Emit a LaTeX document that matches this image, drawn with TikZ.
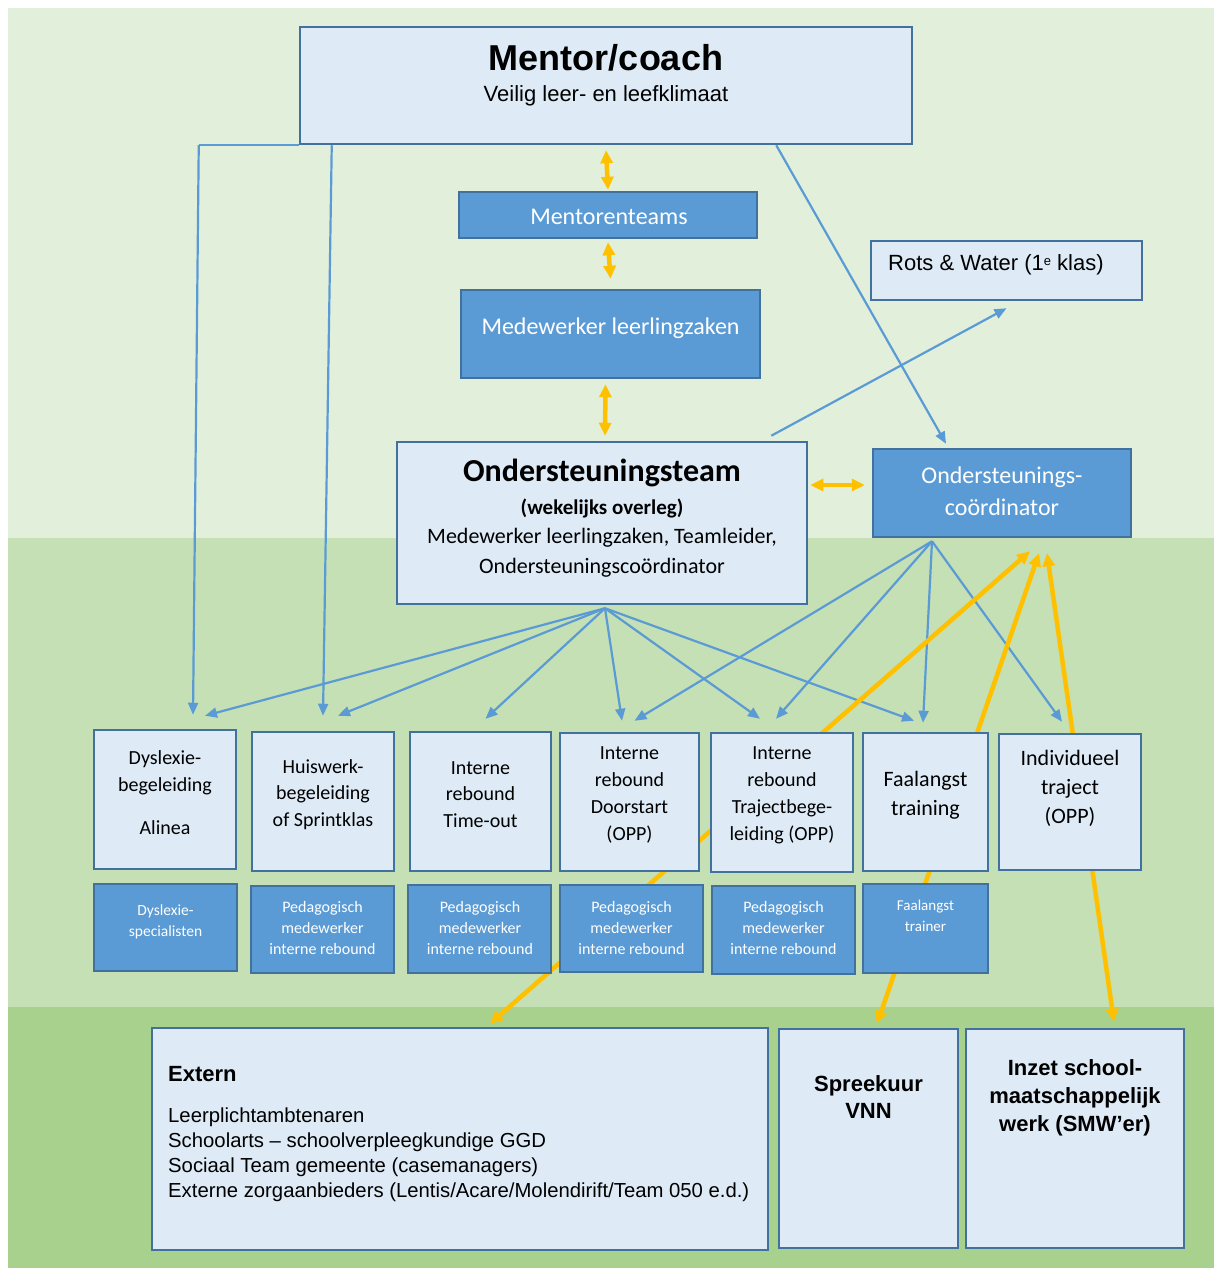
\documentclass[tikz,border=0pt]{standalone}
\usepackage{fontspec}
\setmainfont{Carlito}
\newfontfamily\arial{Liberation Sans}
\usetikzlibrary{arrows.meta}
\pgfdeclarelayer{bg}
\pgfdeclarelayer{lines}
\pgfsetlayers{bg,lines,main}
\definecolor{bgA}{HTML}{E2EFDA}
\definecolor{bgB}{HTML}{C5E0B4}
\definecolor{bgC}{HTML}{A9D18E}
\definecolor{lfill}{HTML}{DEEBF7}
\definecolor{dfill}{HTML}{5B9BD5}
\definecolor{bord}{HTML}{41719C}
\definecolor{barrow}{HTML}{5B9BD5}
\definecolor{yarrow}{HTML}{FFC000}
\begin{document}
\begin{tikzpicture}[x=1pt,y=-1pt,
  lbox/.style={draw=bord,line width=2.5pt,fill=lfill,inner sep=0pt},
  dbox/.style={draw=bord,line width=2.5pt,fill=dfill,inner sep=0pt},
  txt/.style={inner sep=0pt,align=center,text=black,yshift=-2pt},
  wtxt/.style={inner sep=0pt,align=center,text=white,yshift=-2pt},
  ba/.style={draw=barrow,line width=2.2pt,-{Triangle[length=12pt,width=10pt]}},
  bl/.style={draw=barrow,line width=1.8pt},
  ya/.style={draw=yarrow,line width=4.5pt,{Triangle[length=13pt,width=12pt]}-{Triangle[length=13pt,width=12pt]}}
]
\useasboundingbox (0,0) rectangle (1214,1268);
\begin{pgfonlayer}{bg}
  \fill[white] (0,0) rectangle (1214,1268);
  \fill[bgA] (8,8) rectangle (1214,538);
  \fill[bgB] (8,538) rectangle (1214,1007);
  \fill[bgC] (8,1007) rectangle (1214,1268);
\end{pgfonlayer}

% top boxes
\node[lbox,minimum width=612pt,minimum height=117pt] (mentor) at (606,85.5) {};
\node[txt,font=\arial\bfseries\fontsize{36}{40}\selectfont] (mentort) at (606,56) {Mentor/coach};
\node[txt,font=\arial\fontsize{22}{26}\selectfont] (mentors) at (606,94) {Veilig leer- en leefklimaat};

\node[dbox,minimum width=298pt,minimum height=46pt] (mteams) at (608,215) {};
\node[wtxt,font=\fontsize{24}{28}\selectfont] (mteamst) at (609,215) {Mentorenteams};

\node[dbox,minimum width=299pt,minimum height=88pt] (mlz) at (610.5,334) {};
\node[wtxt,font=\fontsize{24}{28}\selectfont] (mlzt) at (610.5,326) {Medewerker leerlingzaken};

\node[lbox,minimum width=271pt,minimum height=59pt] (rots) at (1006.5,270.5) {};
\node[txt,font=\arial\fontsize{22}{26}\selectfont,anchor=west] (rotst) at (888,263) {Rots \& Water (1\raisebox{5pt}{\fontsize{13}{14}\selectfont e} klas)};

\node[lbox,minimum width=410pt,minimum height=162pt] (ost) at (602,523) {};
\node[txt,font=\bfseries\fontsize{32}{36}\selectfont] (ostt) at (602,471) {Ondersteuningsteam};
\node[txt,font=\bfseries\fontsize{21}{25}\selectfont] (osts) at (602,506) {(wekelijks overleg)};
\node[txt,font=\fontsize{22}{30}\selectfont] (ostl) at (602,551) {Medewerker leerlingzaken, Teamleider,\\Ondersteuningscoördinator};

\node[dbox,minimum width=258pt,minimum height=88pt] (coord) at (1002,493) {};
\node[wtxt,font=\fontsize{24}{32}\selectfont] (coordt) at (1002,489) {Ondersteunings-\\coördinator};

% row 1
\node[lbox,minimum width=142pt,minimum height=139pt] (dys) at (165,799.5) {};
\node[txt,font=\fontsize{20}{27}\selectfont] (dyst) at (165,791) {Dyslexie-\\begeleiding\\[16pt]Alinea};
\node[lbox,minimum width=142pt,minimum height=139pt] (hw) at (323,801.5) {};
\node[txt,font=\fontsize{20}{26.5}\selectfont] (hwt) at (323,792.5) {Huiswerk-\\begeleiding\\of Sprintklas};
\node[lbox,minimum width=141pt,minimum height=139pt] (to) at (480.5,801.5) {};
\node[txt,font=\fontsize{20}{26.5}\selectfont] (tot) at (480.5,792.5) {Interne\\rebound\\Time-out};
\node[lbox,minimum width=139pt,minimum height=138pt] (ds) at (629.5,802) {};
\node[txt,font=\fontsize{20}{26.7}\selectfont] (dst) at (629.5,793) {Interne\\rebound\\Doorstart\\(OPP)};
\node[lbox,minimum width=142pt,minimum height=139pt] (tb) at (782,802.5) {};
\node[txt,font=\fontsize{20}{27}\selectfont] (tbt) at (782,793.5) {Interne\\rebound\\Trajectbege-\\leiding (OPP)};
\node[lbox,minimum width=125pt,minimum height=138pt] (fa) at (925.5,802) {};
\node[txt,font=\fontsize{22}{29}\selectfont] (fat) at (925.5,793.5) {Faalangst\\training};
\node[lbox,minimum width=142pt,minimum height=136pt] (ind) at (1070,802) {};
\node[txt,font=\fontsize{22}{29}\selectfont] (indt) at (1070,786) {Individueel\\traject\\(OPP)};

% row 2
\node[dbox,minimum width=143pt,minimum height=87pt] (dyss) at (165.5,927.5) {};
\node[wtxt,font=\fontsize{15.5}{21}\selectfont] (dysst) at (165.5,919.5) {Dyslexie-\\specialisten};
\node[dbox,minimum width=143pt,minimum height=87pt] (pm1) at (322.5,929.5) {};
\node[wtxt,font=\fontsize{16}{21}\selectfont] (pm1t) at (322.5,926) {Pedagogisch\\medewerker\\interne rebound};
\node[dbox,minimum width=143pt,minimum height=88pt] (pm2) at (479.5,929) {};
\node[wtxt,font=\fontsize{16}{21}\selectfont] (pm2t) at (480,925.5) {Pedagogisch\\medewerker\\interne rebound};
\node[dbox,minimum width=143pt,minimum height=87pt] (pm3) at (631.5,928.5) {};
\node[wtxt,font=\fontsize{16}{21}\selectfont] (pm3t) at (631.5,925.5) {Pedagogisch\\medewerker\\interne rebound};
\node[dbox,minimum width=143pt,minimum height=88pt] (pm4) at (783.5,930) {};
\node[wtxt,font=\fontsize{16}{21}\selectfont] (pm4t) at (783.5,926) {Pedagogisch\\medewerker\\interne rebound};
\node[dbox,minimum width=125pt,minimum height=89pt] (fatr) at (925.5,928.5) {};
\node[wtxt,font=\fontsize{15}{21}\selectfont] (fatrt) at (925.5,913.5) {Faalangst\\trainer};

% bottom
\node[lbox,minimum width=616pt,minimum height=222pt] (ext) at (460,1139) {};
\node[txt,font=\arial\bfseries\fontsize{22}{26}\selectfont,anchor=west] (extt) at (168,1072) {Extern};
\node[txt,align=left,font=\arial\fontsize{20.3}{25}\selectfont,anchor=west] (extl) at (168,1152.5) {Leerplichtambtenaren\\Schoolarts – schoolverpleegkundige GGD\\Sociaal Team gemeente (casemanagers)\\Externe zorgaanbieders (Lentis/Acare/Molendirift/Team 050 e.d.)};
\node[lbox,minimum width=179pt,minimum height=219pt] (vnn) at (868.5,1138.5) {};
\node[txt,font=\arial\bfseries\fontsize{22}{27}\selectfont] (vnnt) at (868.5,1095.5) {Spreekuur\\VNN};
\node[lbox,minimum width=218pt,minimum height=219pt] (smw) at (1075,1138.5) {};
\node[txt,font=\arial\bfseries\fontsize{22}{28}\selectfont] (smwt) at (1075,1096) {Inzet school-\\maatschappelijk\\werk (SMW’er)};

\begin{pgfonlayer}{lines}
  % blue connectors
  \draw[bl] (mentor.south west) -- ++(-100,0) coordinate (lcorner);
  \draw[ba] (lcorner) -- ([xshift=28pt,yshift=14pt]dys.north);
  \draw[ba] ([xshift=33pt]mentor.south west) -- ([yshift=15pt]hw.north);
  \draw[ba] ([xshift=-137pt]mentor.south east) -- ([xshift=-56pt,yshift=4pt]coord.north);
  \draw[ba] ([xshift=-37pt,yshift=5pt]ost.north east) -- ([yshift=-7pt]rots.south);
  % fan from Ondersteuningsteam
  \coordinate (ostf) at ([xshift=3pt,yshift=-3pt]ost.south);
  \draw[ba] (ostf) -- ([xshift=40pt,yshift=13pt]dys.north);
  \draw[ba] (ostf) -- ([xshift=15pt,yshift=15pt]hw.north);
  \draw[ba] (ostf) -- ([xshift=5pt,yshift=12pt]to.north);
  \draw[ba] (ostf) -- ([xshift=-7.5pt,yshift=11pt]ds.north);
  \draw[ba] (ostf) -- ([xshift=-22pt,yshift=13pt]tb.north);
  \draw[ba] (ostf) -- ([xshift=-11.5pt,yshift=11pt]fa.north);
  % fan from coordinator
  \coordinate (coordf) at ([xshift=-70pt,yshift=-3pt]coord.south);
  \draw[ba] (coordf) -- ([xshift=5pt,yshift=11pt]ds.north);
  \draw[ba] (coordf) -- ([xshift=-6pt,yshift=13pt]tb.north);
  \draw[ba] (coordf) -- ([xshift=-2.5pt,yshift=9pt]fa.north);
  \draw[ba] (coordf) -- ([xshift=-8pt,yshift=11pt]ind.north);
  % yellow
  \draw[ya] ([yshift=-5pt]mentor.south) -- ([yshift=1pt]mteams.north);
  \draw[ya] ([yshift=-3pt]mteams.south) -- ([yshift=10pt]mlz.north);
  \draw[ya] ([xshift=-5pt,yshift=-5pt]mlz.south) -- ([xshift=3pt,yshift=5pt]ost.north);
  \draw[ya] ([xshift=2pt,yshift=38pt]ost.east) -- ([xshift=-7pt,yshift=8pt]coord.west);
  \draw[ya] ([xshift=30pt,yshift=3pt]ext.north) -- ([xshift=28pt,yshift=-13pt]coord.south);
  \draw[ya] ([xshift=8.5pt,yshift=4pt]vnn.north) -- ([xshift=37pt,yshift=-15pt]coord.south);
  \draw[ya] ([xshift=39pt,yshift=6pt]smw.north) -- ([xshift=45pt,yshift=-15pt]coord.south);
\end{pgfonlayer}
\end{tikzpicture}
\end{document}
